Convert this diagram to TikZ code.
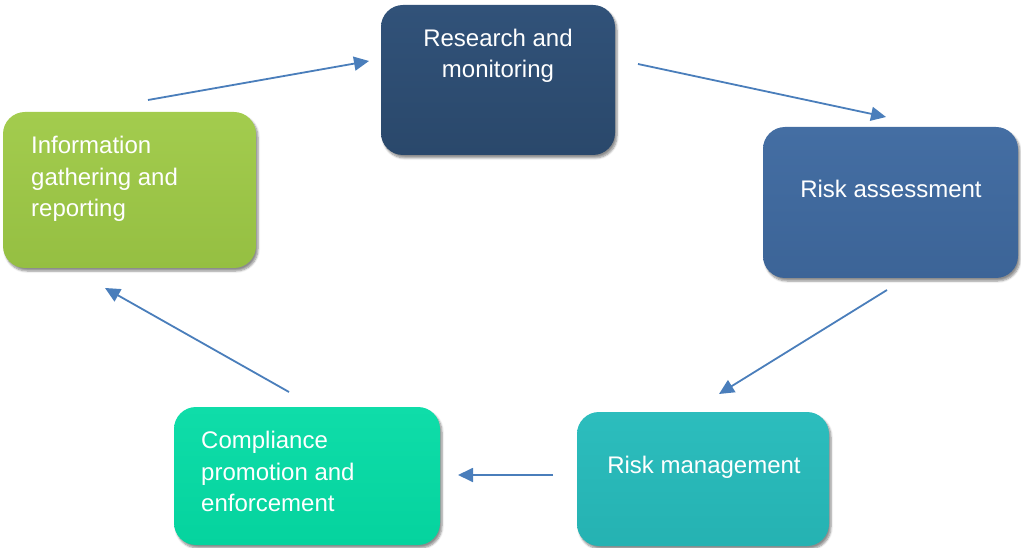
\documentclass[tikz,border=0pt]{standalone}
\usepackage{fontspec}
\setmainfont{Liberation Sans}
\usetikzlibrary{shadows.blur,arrows.meta}

\definecolor{resblue}{HTML}{2A486B}
\definecolor{resblueT}{HTML}{315279}
\definecolor{assblue}{HTML}{3C6497}
\definecolor{assblueT}{HTML}{446EA3}
\definecolor{mgmteal}{HTML}{25B2B2}
\definecolor{mgmtealT}{HTML}{2CBDBD}
\definecolor{cmpgreen}{HTML}{05D39E}
\definecolor{cmpgreenT}{HTML}{0FDDA9}
\definecolor{infgreen}{HTML}{95BF42}
\definecolor{infgreenT}{HTML}{A3CC4E}
\definecolor{flowblue}{HTML}{4A7EBB}

\tikzset{
  stagebox/.style={draw=none, rounded corners=22pt, inner sep=0pt,
    blur shadow={shadow xshift=2pt, shadow yshift=-3pt, shadow blur steps=6, shadow opacity=45}},
  stagetext/.style={text=white, inner sep=0pt,
    font=\fontsize{24}{31.5}\selectfont},
  flow/.style={draw=flowblue, line width=1.8pt,
    -{Triangle[length=15pt, width=14pt]}}
}

\begin{document}
\begin{tikzpicture}[x=1pt, y=-1pt]
  \useasboundingbox (0,0) rectangle (1021,548);

  % stage boxes
  \node[stagebox, top color=resblueT, bottom color=resblue,
        minimum width=234pt, minimum height=150pt] (res) at (498,80) {};
  \node[stagebox, top color=assblueT, bottom color=assblue,
        minimum width=255pt, minimum height=151pt] (ass) at (890.5,202.5) {};
  \node[stagebox, top color=mgmtealT, bottom color=mgmteal,
        minimum width=252pt, minimum height=134pt] (mgm) at (703,479) {};
  \node[stagebox, top color=cmpgreenT, bottom color=cmpgreen,
        minimum width=266pt, minimum height=138pt] (cmp) at (307,476) {};
  \node[stagebox, top color=infgreenT, bottom color=infgreen,
        minimum width=253pt, minimum height=156pt] (inf) at (129.5,190) {};

  % stage labels
  \node[stagetext, align=center, anchor=north] (rest) at ([yshift=-24pt]res.north)
    {Research and\\monitoring};
  \node[stagetext, anchor=center] (asst) at (891,189) {Risk assessment};
  \node[stagetext, anchor=center] (mgmt) at (704,467) {Risk management};
  \node[stagetext, align=left, anchor=north west] (cmpt) at (201,431)
    {Compliance\\promotion and\\enforcement};
  \node[stagetext, align=left, anchor=north west] (inft) at (31,136)
    {Information\\gathering and\\reporting};

  % arrow end points
  \coordinate (a1s) at (148,100);  \coordinate (a1e) at (369,61);
  \coordinate (a2s) at (638,64);   \coordinate (a2e) at (886,117);
  \coordinate (a3s) at (887,290);  \coordinate (a3e) at (719,394);
  \coordinate (a4s) at (553,475);  \coordinate (a4e) at (458,475);
  \coordinate (a5s) at (289,392);  \coordinate (a5e) at (105,288);

  % cycle arrows
  \draw[flow] (a1s) -- (a1e);
  \draw[flow] (a2s) -- (a2e);
  \draw[flow] (a3s) -- (a3e);
  \draw[flow] (a4s) -- (a4e);
  \draw[flow] (a5s) -- (a5e);
\end{tikzpicture}
\end{document}
